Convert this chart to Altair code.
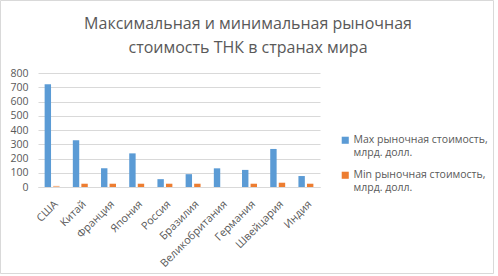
import altair as alt
import pandas as pd

countries = ["США", "Китай", "Франция", "Япония", "Россия", "Бразилия",
             "Великобритания", "Германия", "Швейцария", "Индия"]
max_vals = [721, 328, 131, 236, 55, 90, 131, 120, 267, 77]
min_vals = [8, 23, 23, 23, 23, 23, 0, 23, 30, 23]
series = ["Max рыночная стоимость, млрд. долл.", "Min рыночная стоимость, млрд. долл."]
colors = ["#5B9BD5", "#ED7D31"]
title_lines = ["Максимальная и минимальная рыночная", "стоимость ТНК в странах мира"]

rows = []
for c, a, b in zip(countries, max_vals, min_vals):
    rows.append({"country": c, "series": series[0], "value": a})
    rows.append({"country": c, "series": series[1], "value": b})
df = pd.DataFrame(rows)

FONT = "Open Sans"
GRAY = "#595959"

bars = alt.Chart(df).mark_bar().encode(
    x=alt.X("country:N", sort=countries, title=None,
            scale=alt.Scale(paddingInner=0.47, paddingOuter=0.235),
            axis=alt.Axis(labelAngle=-45, labelFontSize=10.8, labelColor=GRAY, labelFont=FONT,
                          ticks=False, domainColor="#d9d9d9", labelPadding=11)),
    xOffset=alt.XOffset("series:N", sort=series, scale=alt.Scale(paddingInner=0.25)),
    y=alt.Y("value:Q", title=None, scale=alt.Scale(domain=[0, 800]),
            axis=alt.Axis(values=list(range(0, 801, 100)), labelFontSize=10.5, labelColor=GRAY,
                          labelFont=FONT, domain=False, ticks=False, gridColor="#d9d9d9",
                          labelPadding=10)),
    color=alt.Color("series:N", sort=series, title=None,
                    scale=alt.Scale(domain=series, range=colors),
                    legend=alt.Legend(orient="none", legendX=302, legendY=62,
                                      symbolType="square", symbolSize=50, symbolStrokeWidth=0,
                                      labelFontSize=10.5, labelColor=GRAY, labelFont=FONT,
                                      rowPadding=11, labelOffset=3, labelLimit=200,
                                      labelExpr="[substring(datum.label, 0, indexof(datum.label, ',')+1), substring(datum.label, indexof(datum.label, ',')+2)]")),
    opacity=alt.condition(
        (alt.datum.country == "США") & (alt.datum.series == series[1]),
        alt.value(0.55), alt.value(1)),
)

border = alt.Chart(alt.Data(values=[{"a": 1}])).mark_rect(
    fill=None, stroke="#d9d9d9", strokeWidth=1, clip=False
).encode(x=alt.value(-37.5), x2=alt.value(455.5), y=alt.value(-72.5), y2=alt.value(200.5))

title = alt.Chart(alt.Data(values=[{"a": 1}])).mark_text(
    font=FONT, fontSize=16, color=GRAY, align="center", baseline="middle",
    lineHeight=24, clip=False
).encode(x=alt.value(210), y=alt.value(-49), text=alt.value(title_lines))

chart = alt.layer(border, title, bars).properties(
    width=282, height=114,
    padding={"left": 38, "top": 73, "right": 178, "bottom": 89},
    autosize=alt.AutoSizeParams(type="none"),
).configure_view(stroke=None)

chart.save("out.html", embed_options={"renderer": "svg", "actions": False})
